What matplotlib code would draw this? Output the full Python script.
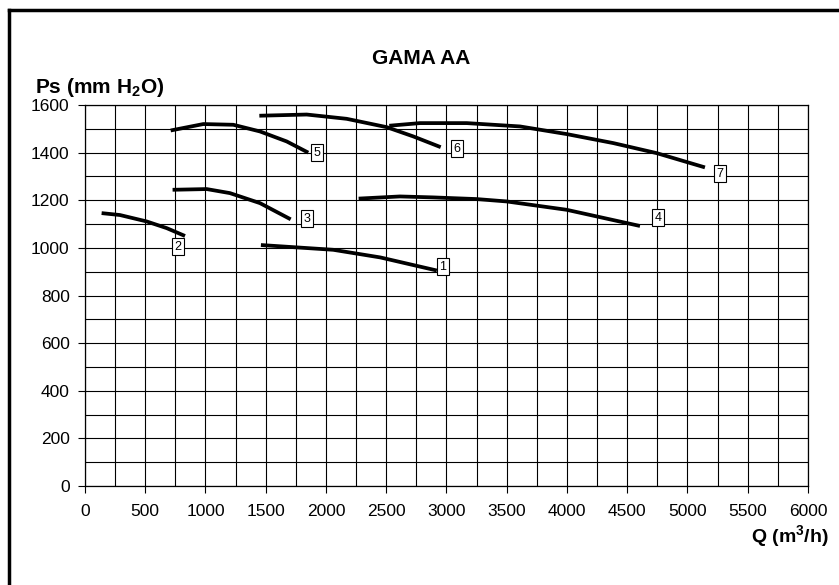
import matplotlib
matplotlib.use('Agg')
import matplotlib.pyplot as plt
from matplotlib.ticker import MultipleLocator
from matplotlib.lines import Line2D

plt.rcParams['font.family'] = ['Liberation Sans', 'DejaVu Sans']

# Curvas de ventiladores (Q en m3/h, Ps en mm H2O)
q1 = [1460, 1730, 2060, 2450, 2920]
p1 = [1012, 1003, 992, 960, 905]
q2 = [138, 290, 512, 678, 830]
p2 = [1146, 1138, 1111, 1083, 1050]
q3 = [727, 1010, 1203, 1452, 1707]
p3 = [1244, 1247, 1230, 1188, 1120]
q4 = [2271, 2614, 2890, 3250, 3500, 3997, 4606]
p4 = [1207, 1216, 1212, 1205, 1195, 1160, 1092]
q5 = [711, 982, 1231, 1452, 1674, 1853]
p5 = [1493, 1520, 1517, 1489, 1447, 1400]
q6 = [1447, 1840, 2172, 2504, 2725, 2952]
p6 = [1555, 1560, 1542, 1507, 1468, 1423]
q7 = [2525, 2780, 3168, 3610, 3997, 4385, 4744, 5145]
p7 = [1513, 1524, 1524, 1510, 1478, 1440, 1398, 1338]

curvas = [(q1, p1), (q2, p2), (q3, p3), (q4, p4), (q5, p5), (q6, p6), (q7, p7)]

# posicion de las etiquetas numeradas
etiquetas = ['1', '2', '3', '4', '5', '6', '7']
etq_q = [2971, 772, 1842, 4755, 1925, 3087, 5270]
etq_p = [920, 1004, 1122, 1126, 1399, 1416, 1311]

fig = plt.figure(figsize=(8.39, 5.85), dpi=100)
ax = fig.add_axes([0.1013, 0.1692, 0.8617, 0.6513])

for q, p in curvas:
    ax.plot(q, p, color='black', lw=2.7, solid_capstyle='butt', solid_joinstyle='round')

for t, x, y in zip(etiquetas, etq_q, etq_p):
    ax.text(x, y, t, fontsize=9, ha='center', va='center',
            bbox=dict(boxstyle='square,pad=0.2', fc='white', ec='black', lw=0.8))

ax.set_xlim(0, 6000)
ax.set_ylim(0, 1600)
ax.xaxis.set_major_locator(MultipleLocator(500))
ax.xaxis.set_minor_locator(MultipleLocator(250))
ax.yaxis.set_major_locator(MultipleLocator(200))
ax.yaxis.set_minor_locator(MultipleLocator(100))
ax.grid(which='both', color='black', lw=0.8)
ax.set_axisbelow(True)
ax.tick_params(which='major', length=5, width=0.8, labelsize=12.5, direction='out')
ax.tick_params(which='minor', length=0)
ax.tick_params(axis='x', pad=8)
ax.tick_params(axis='y', pad=6)
for s in ax.spines.values():
    s.set_linewidth(0.9)

fig.text(0.502, 0.9, 'GAMA AA', fontsize=15, fontweight='bold', ha='center', va='center')
fig.text(0.042, 0.851, r'Ps (mm H$_\mathregular{2}$O)', fontsize=15, fontweight='bold',
         ha='left', va='center')
fig.text(0.987, 0.083, r'Q (m$^\mathregular{3}$/h)', fontsize=14, fontweight='bold',
         ha='right', va='center')

# marco exterior (solo izquierda y arriba visibles)
fig.add_artist(Line2D([0.0107, 0.0107], [-0.1, 0.9835], transform=fig.transFigure,
                      color='black', lw=2.5))
fig.add_artist(Line2D([0.0107, 1.1], [0.9835, 0.9835], transform=fig.transFigure,
                      color='black', lw=2.5))

fig.savefig('out.png', dpi=100)
